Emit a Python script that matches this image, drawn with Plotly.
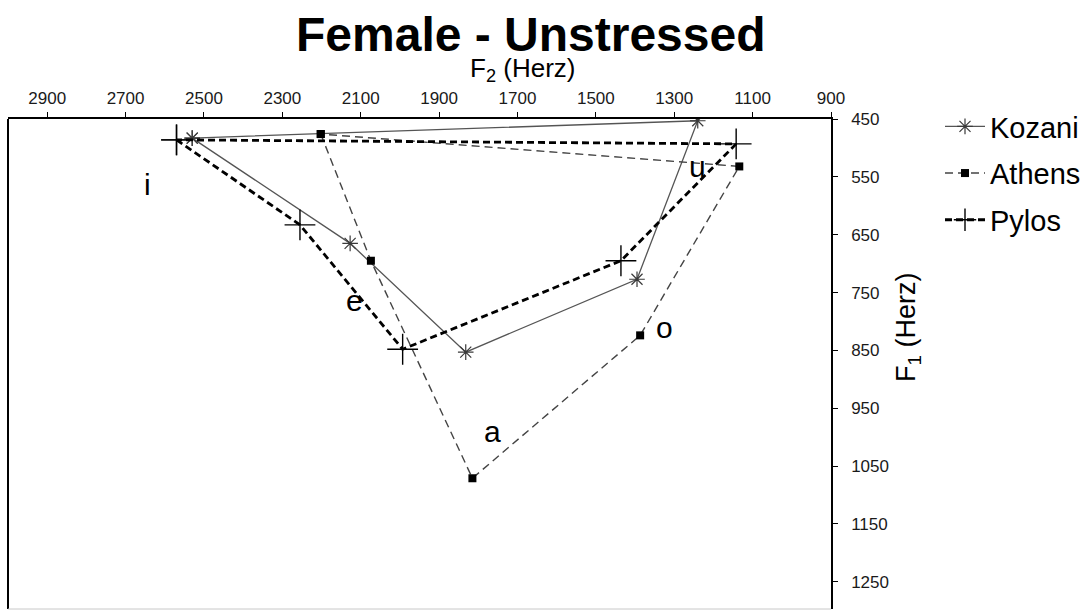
import plotly.graph_objects as go

# Vowel order around each polygon (closed back to /i/)
vowels = ["i", "e", "a", "o", "u", "i"]

# Formant values (Hz) per dialect, same order as `vowels`
kozani_f2 = [2530, 2127, 1832, 1395, 1240, 2530]
kozani_f1 = [483, 665, 853, 727, 453, 483]

athens_f2 = [2202, 2074, 1815, 1387, 1134, 2202]
athens_f1 = [476, 695, 1071, 824, 532, 476]

pylos_f2 = [2570, 2255, 1993, 1436, 1142, 2570]
pylos_f1 = [486, 633, 848, 695, 493, 486]

# Vowel label placement (F2, F1)
label_text = ["i", "e", "a", "o", "u"]
label_f2 = [2643, 2117, 1765, 1324, 1241]
label_f1 = [564, 764, 991, 810, 532]

f2_ticks = [2900, 2700, 2500, 2300, 2100, 1900, 1700, 1500, 1300, 1100, 900]
f1_ticks = [450, 550, 650, 750, 850, 950, 1050, 1150, 1250]

FONT = "Liberation Sans, Arial, sans-serif"

fig = go.Figure()

fig.add_trace(go.Scatter(
    x=kozani_f2, y=kozani_f1, name="Kozani", mode="lines+markers",
    line=dict(color="#555555", width=1.3, dash="solid"),
    marker=dict(symbol="asterisk-open", size=13, color="#3a3a3a",
                line=dict(color="#3a3a3a", width=1.2)),
    legendgroup="k",
))
fig.add_trace(go.Scatter(
    x=athens_f2, y=athens_f1, name="Athens", mode="lines+markers",
    line=dict(color="#444444", width=1.4, dash="8px,5px"),
    marker=dict(symbol="square", size=8, color="black"),
    legendgroup="a",
))
fig.add_trace(go.Scatter(
    x=pylos_f2, y=pylos_f1, name="Pylos", mode="lines+markers",
    line=dict(color="black", width=2.8, dash="7px,4px"),
    marker=dict(symbol="cross-thin-open", size=22, color="black",
                line=dict(color="black", width=1.4)),
    legendgroup="p",
))

annotations = []
for t, fx, fy in zip(label_text, label_f2, label_f1):
    annotations.append(dict(
        x=fx, y=fy, xref="x", yref="y", text=t, showarrow=False,
        font=dict(family=FONT, size=30, color="black"),
        xanchor="center", yanchor="middle",
    ))

# Title and axis captions
annotations.append(dict(
    text="<b>Female - Unstressed</b>", xref="paper", yref="paper",
    x=(531 - 8) / 823, y=1 + (119 - 35) / 490, showarrow=False,
    xanchor="center", yanchor="middle",
    font=dict(family=FONT, size=48, color="black"),
))
annotations.append(dict(
    text="F<sub>2</sub> (Herz)", xref="paper", yref="paper",
    x=(522 - 8) / 823, y=1 + (119 - 70) / 490, showarrow=False,
    xanchor="center", yanchor="middle",
    font=dict(family=FONT, size=26, color="black"),
))
annotations.append(dict(
    text="F<sub>1</sub> (Herz)", xref="paper", yref="paper",
    x=(908 - 8) / 823, y=(609 - 327) / 490, showarrow=False,
    xanchor="center", yanchor="middle", textangle=-90,
    font=dict(family=FONT, size=27, color="black"),
))

fig.update_layout(
    width=1090, height=610,
    margin=dict(l=8, r=259, t=119, b=1, pad=0),
    paper_bgcolor="white", plot_bgcolor="white",
    showlegend=True,
    legend=dict(
        x=(940 - 8) / 823, y=1 + (119 - 101) / 490,
        xanchor="left", yanchor="top",
        font=dict(family=FONT, size=29, color="black"),
        traceorder="grouped", tracegroupgap=6,
        bgcolor="rgba(0,0,0,0)", itemwidth=40,
    ),
    annotations=annotations,
    shapes=[
        dict(type="line", xref="paper", yref="paper", x0=0, x1=0, y0=0, y1=1,
             line=dict(color="black", width=2)),
        dict(type="line", xref="paper", yref="paper", x0=0, x1=1, y0=0, y1=0,
             line=dict(color="#c8c8c8", width=1)),
    ],
)

fig.update_xaxes(
    range=[3000, 900], side="top", tickvals=f2_ticks,
    ticks="outside", ticklen=5, tickwidth=1, tickcolor="black",
    showline=True, linecolor="black", linewidth=1.5,
    showgrid=False, zeroline=False,
    tickfont=dict(family=FONT, size=17, color="#1a1a1a"),
    ticklabelstandoff=1,
)
fig.update_yaxes(
    range=[1297, 450], side="right", tickvals=f1_ticks,
    ticks="outside", ticklen=5, tickwidth=1, tickcolor="black",
    showline=True, linecolor="black", linewidth=1.5,
    showgrid=False, zeroline=False,
    tickfont=dict(family=FONT, size=17, color="#1a1a1a"),
    ticklabelstandoff=10,
)

fig.write_html("out.html")
